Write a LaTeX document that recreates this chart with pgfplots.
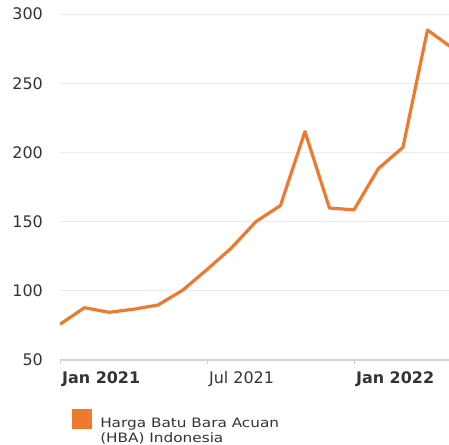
\documentclass[border=0pt]{standalone}
\usepackage{fontspec}
\setmainfont{DejaVu Sans}
\newfontfamily\legfont[FakeStretch=1.18]{DejaVu Sans}
\usepackage{pgfplots}
\pgfplotsset{compat=1.18}
\definecolor{hba}{RGB}{238,122,48}
\begin{document}
\begin{tikzpicture}
\path[use as bounding box] (-60bp,-85bp) rectangle (389bp,360bp);
\begin{axis}[
 at={(0,0)}, anchor=south west,
 scale only axis, width=389bp, height=346bp,
 xmin=0, xmax=15.88, ymin=50, ymax=300,
 ytick={50,100,...,300},
 xtick={0,6,12},
 xticklabels={\textbf{Jan 2021},Jul 2021,\textbf{Jan 2022}},
 axis line style={draw=none},
 ymajorgrids, grid style={color=black!8, line width=1bp},
 extra y ticks={50}, extra y tick labels={},
 extra y tick style={grid style={color=black!17, line width=1.6bp}, major tick length=0pt},
 xtick pos=bottom, ytick pos=left,
 xtick align=outside,
 x tick style={color=black!20, line width=0.8bp}, major tick length=4bp,
 y tick style={draw=none},
 tick label style={font=\fontsize{16}{16}\selectfont, text=black!80},
 /pgf/number format/assume math mode=true,
 y tick label style={inner sep=0pt, anchor=east, xshift=-17bp},
 x tick label style={inner sep=0pt, anchor=north west, xshift=2bp, yshift=-7bp},
 legend style={at={(axis description cs:0.031,-0.1402)}, anchor=north west, draw=none, fill=none, inner sep=0pt,
   font=\legfont\fontsize{13}{15}\selectfont, nodes={align=left, text=black!80}},
 legend image code/.code={\fill[hba, draw=none] (0bp,2.5bp) rectangle (20bp,22.5bp); \path[draw=none, fill=none] (0bp,-22.5bp) rectangle (26bp,22.5bp);},
 clip=true,
]
\addplot[hba, line width=3.2bp, line join=round] coordinates {
(0,75.84) (1,87.79) (2,84.47) (3,86.68) (4,89.74) (5,100.33) (6,115.35) (7,130.99)
(8,150.03) (9,161.63) (10,215.01) (11,159.79) (12,158.50) (13,188.38) (14,203.69)
(15,288.40) (16,275.64)};
\addlegendentry{Harga Batu Bara Acuan\\(HBA) Indonesia}
\end{axis}
\end{tikzpicture}
\end{document}
